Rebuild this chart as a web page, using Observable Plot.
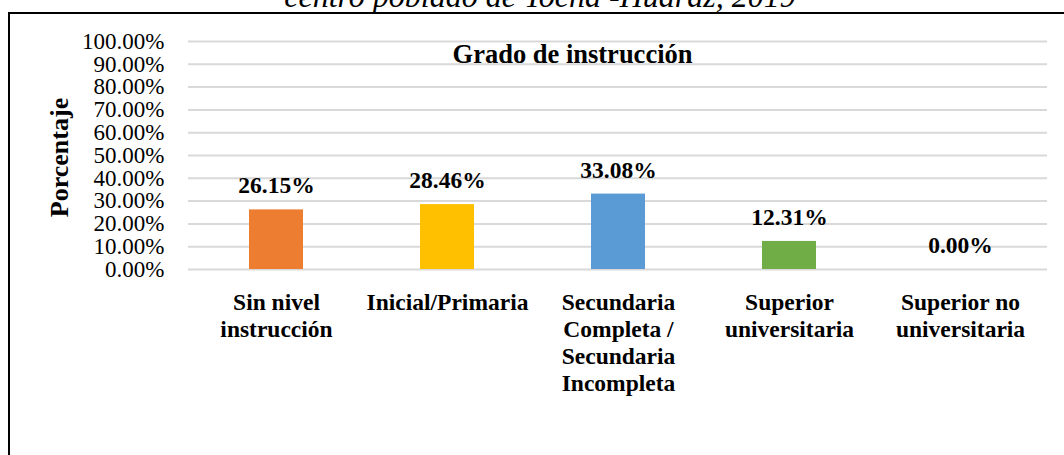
<!DOCTYPE html>
<html>
<head>
<meta charset="utf-8">
<script src="https://cdn.jsdelivr.net/npm/d3@7"></script>
<script src="https://cdn.jsdelivr.net/npm/@observablehq/plot@0.6"></script>
<style>
  html, body { margin: 0; padding: 0; background: #ffffff; }
  #wrap { position: relative; width: 1064px; height: 455px; overflow: hidden; background: #fff; }
  #caption { position: absolute; left: 0; width: 1080px; top: -20px; text-align: center;
    font-family: "Liberation Serif", "Times New Roman", serif; font-style: italic; font-size: 32px; line-height: 32px; color: #000; white-space: nowrap; }
  #frame { position: absolute; left: 8px; top: 12px; width: 1200px; height: 600px;
    border-left: 2px solid #000; border-top: 2px solid #000; }
  #chart { position: absolute; left: 0; top: 0; }
</style>
</head>
<body>
<div id="wrap">
  <div id="caption">centro poblado de Tocña -Huaraz, 2019</div>
  <div id="frame"></div>
  <div id="chart"></div>
</div>
<script>
const categories = ["Sin nivel instrucción", "Inicial/Primaria", "Secundaria Completa / Secundaria Incompleta", "Superior universitaria", "Superior no universitaria"];
const categoryLabels = ["Sin nivel\ninstrucción", "Inicial/Primaria", "Secundaria\nCompleta /\nSecundaria\nIncompleta", "Superior\nuniversitaria", "Superior no\nuniversitaria"];
const values = [0.2615, 0.2846, 0.3308, 0.1231, 0.0];
const colors = ["#ED7D31", "#FFC000", "#5B9BD5", "#70AD47", "#4472C4"];
const yTicks = [0, 0.1, 0.2, 0.3, 0.4, 0.5, 0.6, 0.7, 0.8, 0.9, 1.0];
const chartTitle = "Grado de instrucción";
const yLabel = "Porcentaje";

const data = categories.map((c, i) => ({cat: c, label: categoryLabels[i], value: values[i]}));
const pct = d => (d * 100).toFixed(2) + "%";
const font = "'Liberation Serif', 'Times New Roman', serif";

const chart = Plot.plot({
  width: 1064,
  height: 455,
  marginLeft: 188,
  marginRight: 17,
  marginTop: 41,
  marginBottom: 186,
  style: {fontFamily: font, color: "#000", background: "transparent", overflow: "visible"},
  x: {domain: categories, paddingInner: 0.686, paddingOuter: 0.343, axis: null},
  y: {domain: [0, 1], axis: null},
  color: {domain: categories, range: colors},
  marks: [
    Plot.ruleY(yTicks, {stroke: "#D9D9D9", strokeWidth: 2}),
    Plot.barY(data, {x: "cat", y: "value", fill: "cat"}),
    Plot.text(data, {x: "cat", y: "value", text: d => pct(d.value), dy: -16.5, lineAnchor: "bottom",
      fontSize: 23.5, fontWeight: "bold", fill: "#000"}),
    Plot.axisY({ticks: yTicks, tickSize: 0, tickPadding: 24, tickFormat: pct, fontSize: 23, label: null, fill: "#000"}),
    Plot.text(data, {x: "cat", frameAnchor: "bottom", text: "label", dy: 21, lineAnchor: "top",
      lineHeight: 1.15, fontSize: 23.5, fontWeight: "bold", fill: "#000"}),
    Plot.text([chartTitle], {frameAnchor: "top", dx: -45.5, dy: 21.7, lineAnchor: "bottom",
      fontSize: 26.5, fontWeight: "bold", fill: "#000"}),
    Plot.text([yLabel], {frameAnchor: "left", rotate: -90, dx: -121, dy: 2, lineAnchor: "bottom",
      textAnchor: "middle", fontSize: 26, fontWeight: "bold", fill: "#000"})
  ]
});
document.getElementById("chart").appendChild(chart);
</script>
</body>
</html>
